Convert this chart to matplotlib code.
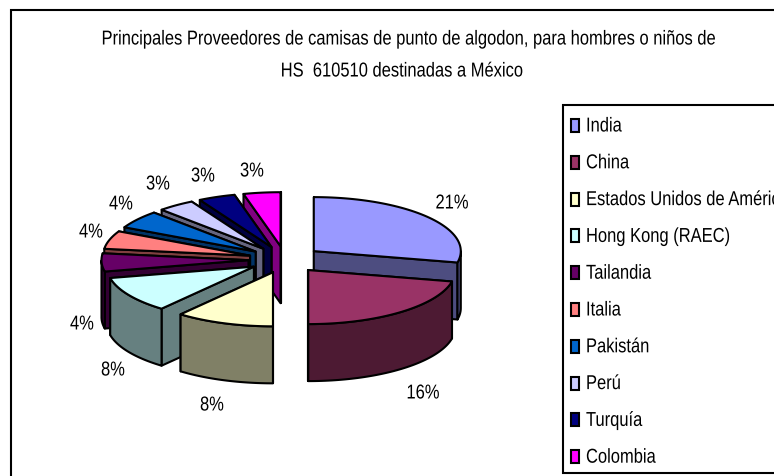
import numpy as np
import matplotlib
matplotlib.use("Agg")
import matplotlib.pyplot as plt
from matplotlib.patches import Rectangle
from matplotlib.patheffects import AbstractPathEffect
from matplotlib.transforms import Affine2D

plt.rcParams['font.family'] = ['Liberation Sans']

paises = ["India", "China", "Estados Unidos de América", "Hong Kong (RAEC)", "Tailandia",
          "Italia", "Pakistán", "Perú", "Turquía", "Colombia"]
valores = [21, 16, 8, 8, 4, 4, 4, 3, 3, 3]
colores = ["#9999FF", "#993366", "#FFFFCC", "#CCFFFF", "#660066",
           "#FF8080", "#0066CC", "#CCCCFF", "#000080", "#FF00FF"]
# posicion de cada porcentaje, en pixeles
pos_etiquetas = [(452, 203), (423, 393), (212, 405), (113, 370), (82, 324),
                 (91, 232), (121, 204), (158, 184), (203, 176), (252, 171)]

cx, cy = 285.2, 259.6
rx, ry = 147, 54
alto = 57
explode = 0.25
fs = 14.5
angosto = 0.82


class Estrecho(AbstractPathEffect):
    # el original es Arial aplastada en horizontal
    def __init__(self, x, factor=angosto):
        super().__init__()
        self.x = x
        self.factor = factor

    def draw_path(self, renderer, gc, tpath, affine, rgbFace=None):
        aff = affine + Affine2D().translate(-self.x, 0).scale(self.factor, 1).translate(self.x, 0)
        renderer.draw_path(gc, tpath, aff, rgbFace)


def texto(x, y, s, ha="center"):
    ax.text(x, y, s, ha=ha, va="center", fontsize=fs, color="black",
            path_effects=[Estrecho(x)])


def oscuro(c):
    r, g, b = matplotlib.colors.to_rgb(c)
    return (r / 2, g / 2, b / 2)


def punto(ang, x0, y0):
    # angulo medido desde las 12 en sentido horario
    return x0 + rx * np.sin(ang), y0 - ry * np.cos(ang)


fig = plt.figure(figsize=(7.74, 4.76), dpi=100)
ax = fig.add_axes([0, 0, 1, 1])
ax.set_xlim(0, 774)
ax.set_ylim(476, 0)
ax.axis("off")

ax.add_patch(Rectangle((11, 10), 800, 500, fc="white", ec="black", lw=1.5))

fracs = np.array(valores) / sum(valores) * 2 * np.pi
fin = np.cumsum(fracs)
ini = fin - fracs
medio = (ini + fin) / 2
x0s = cx + explode * rx * np.sin(medio)
y0s = cy - explode * ry * np.cos(medio)

# primero los de atras
orden = np.argsort(y0s)
for i in orden:
    x0, y0 = x0s[i], y0s[i]
    c = colores[i]
    ang = np.linspace(ini[i], fin[i], 60)
    bx, by = punto(ang, x0, y0)

    # paredes radiales, la de mas atras primero
    paredes = []
    for a in (ini[i], fin[i]):
        px, py = punto(a, x0, y0)
        paredes.append(((py + y0) / 2, [x0, px, px, x0], [y0, py, py + alto, y0 + alto]))
    paredes.sort(key=lambda p: p[0])
    for _, wx, wy in paredes:
        ax.fill(wx, wy, fc=oscuro(c), ec="black", lw=1.5, joinstyle="round")

    # pared exterior, solo lo que mira al frente
    frente = np.cos(ang) < 0
    if frente.any():
        fx, fy = bx[frente], by[frente]
        ax.fill(np.r_[fx, fx[::-1]], np.r_[fy, fy[::-1] + alto],
                fc=oscuro(c), ec="black", lw=1.5, joinstyle="round")

    ax.fill(np.r_[x0, bx], np.r_[y0, by], fc=c, ec="black", lw=1.5, joinstyle="round")

for v, (x, y) in zip(valores, pos_etiquetas):
    texto(x, y, f"{v}%")

texto(409.5, 39, "Principales Proveedores de camisas de punto de algodon, para hombres o niños de")
texto(402, 71, "HS  610510 destinadas a México")

# leyenda
ax.add_patch(Rectangle((563, 105), 300, 368, fc="white", ec="black", lw=1.5))
for i, (p, c) in enumerate(zip(paises, colores)):
    y = 126 + i * 36.8
    ax.add_patch(Rectangle((571, y - 7), 8, 13, fc=c, ec="black", lw=1.5))
    texto(586, y, p, ha="left")

fig.savefig("out.png", dpi=100)
